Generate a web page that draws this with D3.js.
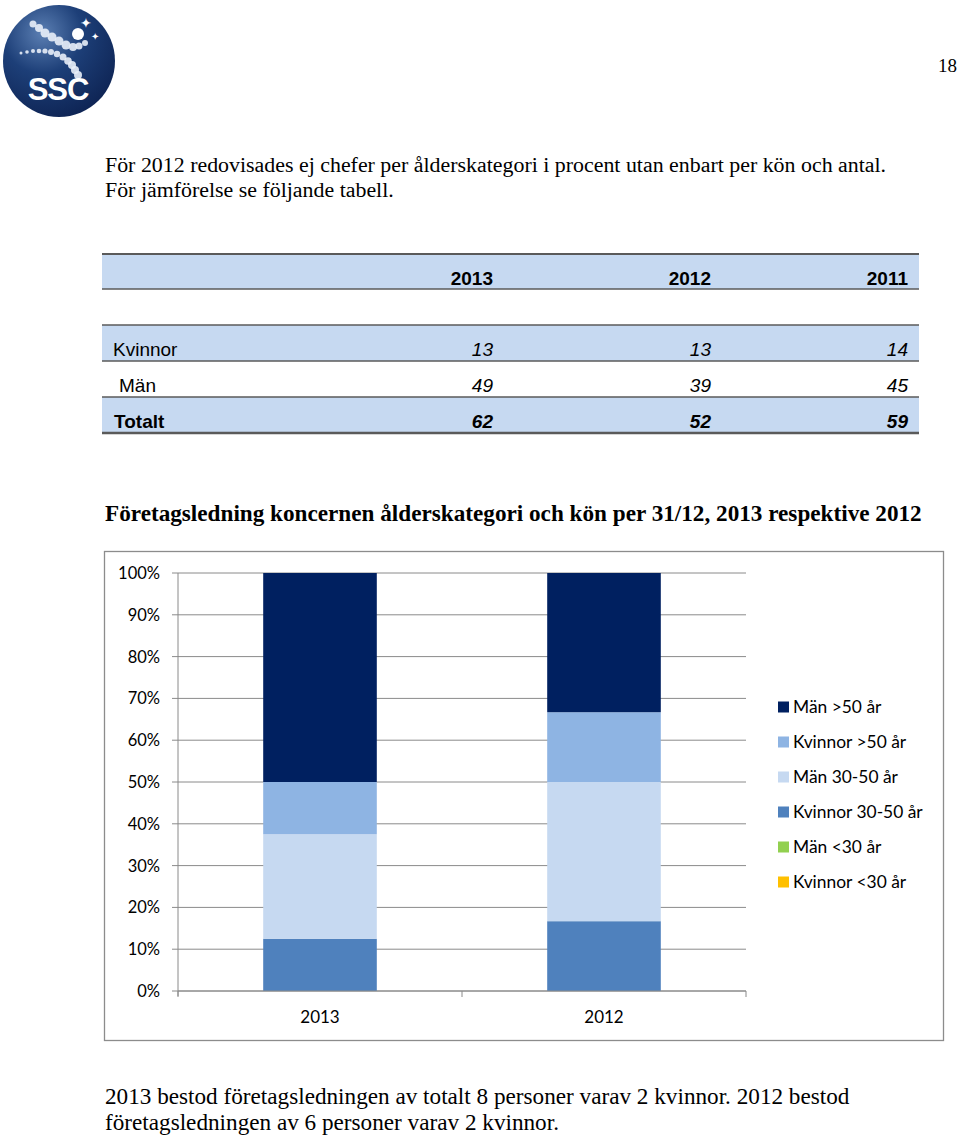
<!DOCTYPE html>
<html><head><meta charset="utf-8">
<script src="https://cdn.jsdelivr.net/npm/d3@7"></script>
<style>body{margin:0;background:#fff}svg{display:block}</style>
</head><body>
<script>
// ---- data ----
const tableYears = ["2013","2012","2011"];
const tableRows = ["Kvinnor","Män","Totalt"];
const kvinnorCounts = [13,13,14];
const manCounts = [49,39,45];
const totaltCounts = [62,52,59];

const categories = ["2013","2012"];
const seriesNames = ["Kvinnor <30 år","Män <30 år","Kvinnor 30-50 år","Män 30-50 år","Kvinnor >50 år","Män >50 år"];
const kvinnorUnder30 = [0,0];
const manUnder30 = [0,0];
const kvinnor3050 = [12.5,16.7];
const man3050 = [25,33.3];
const kvinnorOver50 = [12.5,16.7];
const manOver50 = [50,33.3];
const yTicks = [0,10,20,30,40,50,60,70,80,90,100];
const legendOrder = ["Män >50 år","Kvinnor >50 år","Män 30-50 år","Kvinnor 30-50 år","Män <30 år","Kvinnor <30 år"];
const colors = {"Män >50 år":"#002060","Kvinnor >50 år":"#8EB4E3","Män 30-50 år":"#C6D9F1","Kvinnor 30-50 år":"#4F81BD","Män <30 år":"#92D050","Kvinnor <30 år":"#FFC000"};

const W=960,H=1138;
const svg=d3.select("body").append("svg").attr("width",W).attr("height",H);

// ---- logo ----
const defs=svg.append("defs");
const grad=defs.append("radialGradient").attr("id","lg").attr("cx","35%").attr("cy","25%").attr("r","80%");
grad.append("stop").attr("offset","0%").attr("stop-color","#5b7fb3");
grad.append("stop").attr("offset","45%").attr("stop-color","#1d3f78");
grad.append("stop").attr("offset","100%").attr("stop-color","#0e2454");
const logo=svg.append("g").attr("transform","translate(59,61)");
logo.append("circle").attr("r",56).attr("fill","url(#lg)");
const dots=[[-26,-37,3.5],[-20,-33,4],[-14,-28,4.5],[-7,-24,4.5],[0,-20,4.5],[7,-16,4.5],[14,-14,4],[20,-15,3.5],[26,-18,3],[-38,-8,1.5],[-32,-9,1.8],[-26,-10,2],[-20,-10,2.3],[-14,-10,2.6],[-8,-9,3],[-2,-7,3.2],[4,-4,3.5],[9,0,3.8],[13,4,4],[16,9,4],[19,14,4]];
logo.selectAll("circle.d").data(dots).enter().append("circle").attr("cx",d=>d[0]).attr("cy",d=>d[1]).attr("r",d=>d[2]).attr("fill","#e8eef8").attr("opacity",0.9);
logo.append("circle").attr("cx",19).attr("cy",-27).attr("r",6).attr("fill","#ffffff");
logo.append("text").attr("x",27).attr("y",-33).attr("font-size",14).attr("fill","#fff").attr("text-anchor","middle").text("✦");
logo.append("text").attr("x",36).attr("y",-21).attr("font-size",10).attr("fill","#fff").attr("text-anchor","middle").text("✦");
logo.append("text").attr("x",-1).attr("y",39).attr("text-anchor","middle").attr("font-family","'Liberation Sans',Arial,sans-serif").attr("font-weight","bold").attr("font-size",31).attr("fill","#fff").attr("letter-spacing",-1).text("SSC");

// page number
svg.append("text").attr("x",957).attr("y",72).attr("text-anchor","end").attr("font-family","'Liberation Serif','Times New Roman',serif").attr("font-size",19).attr("fill","#000").text("18");

// intro text
const serif="'Liberation Serif','Times New Roman',serif";
svg.append("text").attr("x",105).attr("y",172).attr("font-family",serif).attr("font-size",21.9).text("För 2012 redovisades ej chefer per ålderskategori i procent utan enbart per kön och antal.");
svg.append("text").attr("x",105).attr("y",197).attr("font-family",serif).attr("font-size",21.9).text("För jämförelse se följande tabell.");

// ---- table ----
const sans="'Liberation Sans',Arial,sans-serif";
const tX0=102,tX1=919;
const band="#C6D9F1", line="#5a5a5a";
const colRight=[493,711,908];
const tbl=svg.append("g");
// header
tbl.append("rect").attr("x",tX0).attr("y",254).attr("width",tX1-tX0).attr("height",35).attr("fill",band);
tbl.append("line").attr("x1",tX0).attr("x2",tX1).attr("y1",254).attr("y2",254).attr("stroke",line).attr("stroke-width",2);
tbl.append("line").attr("x1",tX0).attr("x2",tX1).attr("y1",289).attr("y2",289).attr("stroke",line).attr("stroke-width",1.5);
tbl.selectAll("text.h").data(tableYears).enter().append("text").attr("x",(d,i)=>colRight[i]).attr("y",285).attr("text-anchor","end").attr("font-family",sans).attr("font-weight","bold").attr("font-size",19).text(d=>d);
// rows
const rowTop=[325,361,397], rowH=36;
const rowFill=[band,"#fff",band];
const rowVals=[kvinnorCounts,manCounts,totaltCounts];
const rowLabelX=[113,119,114];
tableRows.forEach((r,i)=>{
  tbl.append("rect").attr("x",tX0).attr("y",rowTop[i]).attr("width",tX1-tX0).attr("height",rowH).attr("fill",rowFill[i]);
  tbl.append("text").attr("x",rowLabelX[i]).attr("y",rowTop[i]+31).attr("font-family",sans).attr("font-size",19).attr("font-weight",i==2?"bold":"normal").text(r);
  rowVals[i].forEach((v,j)=>{
    tbl.append("text").attr("x",colRight[j]).attr("y",rowTop[i]+31).attr("text-anchor","end").attr("font-family",sans).attr("font-size",19).attr("font-style","italic").attr("font-weight",i==2?"bold":"normal").text(v);
  });
});
tbl.append("line").attr("x1",tX0).attr("x2",tX1).attr("y1",325).attr("y2",325).attr("stroke",line).attr("stroke-width",1.5);
tbl.append("line").attr("x1",tX0).attr("x2",tX1).attr("y1",361).attr("y2",361).attr("stroke",line).attr("stroke-width",1.5);
tbl.append("line").attr("x1",tX0).attr("x2",tX1).attr("y1",397).attr("y2",397).attr("stroke",line).attr("stroke-width",1.5);
tbl.append("line").attr("x1",tX0).attr("x2",tX1).attr("y1",433).attr("y2",433).attr("stroke",line).attr("stroke-width",2.5);

// chart title
svg.append("text").attr("x",105).attr("y",521).attr("font-family",serif).attr("font-weight","bold").attr("font-size",23.2).text("Företagsledning koncernen ålderskategori och kön per 31/12, 2013 respektive 2012");

// ---- chart ----
const cf="Lato,'Open Sans',sans-serif";
svg.append("rect").attr("x",104.5).attr("y",551.5).attr("width",839).attr("height",489).attr("fill","#fff").attr("stroke","#8c8c8c").attr("stroke-width",1.3);
const px0=178,px1=746,py0=991,py1=573;
const x=d3.scaleBand().domain(categories).range([px0,px1]);
const y=d3.scaleLinear().domain([0,100]).range([py0,py1]);
const g=svg.append("g");
// gridlines
g.selectAll("line.grid").data(yTicks).enter().append("line").attr("x1",px0-6).attr("x2",px1).attr("y1",d=>y(d)).attr("y2",d=>y(d)).attr("stroke","#8a8a8a").attr("stroke-width",1);
g.append("line").attr("x1",px0).attr("x2",px0).attr("y1",py1).attr("y2",py0+5).attr("stroke","#8a8a8a");
g.selectAll("text.yl").data(yTicks).enter().append("text").attr("x",160).attr("y",d=>y(d)+6).attr("text-anchor","end").attr("font-family",cf).attr("font-size",16.5).attr("fill","#000").text(d=>d+"%");
// stacked bars
const rows=categories.map((c,i)=>({cat:c,"Kvinnor <30 år":kvinnorUnder30[i],"Män <30 år":manUnder30[i],"Kvinnor 30-50 år":kvinnor3050[i],"Män 30-50 år":man3050[i],"Kvinnor >50 år":kvinnorOver50[i],"Män >50 år":manOver50[i]}));
const stack=d3.stack().keys(seriesNames).offset(d3.stackOffsetExpand)(rows);
const bw=x.bandwidth()*0.4;
stack.forEach(s=>{
  g.selectAll(null).data(s).enter().append("rect")
   .attr("x",d=>x(d.data.cat)+x.bandwidth()/2-bw/2).attr("width",bw)
   .attr("y",d=>y(d[1]*100)).attr("height",d=>y(d[0]*100)-y(d[1]*100))
   .attr("fill",colors[s.key]);
});
// x axis
g.append("line").attr("x1",px0).attr("x2",px1).attr("y1",py0).attr("y2",py0).attr("stroke","#8a8a8a");
[px0,(px0+px1)/2,px1].forEach(t=>g.append("line").attr("x1",t).attr("x2",t).attr("y1",py0).attr("y2",py0+6).attr("stroke","#8a8a8a"));
g.selectAll("text.xl").data(categories).enter().append("text").attr("x",d=>x(d)+x.bandwidth()/2).attr("y",1023).attr("text-anchor","middle").attr("font-family",cf).attr("font-size",17).text(d=>d);
// legend
const lg=svg.append("g");
legendOrder.forEach((k,i)=>{
  const cy=707+i*35;
  lg.append("rect").attr("x",778).attr("y",cy-5.5).attr("width",11).attr("height",11).attr("fill",colors[k]);
  lg.append("text").attr("x",793).attr("y",cy+6).attr("font-family",cf).attr("font-size",17.4).text(k);
});

// bottom text
svg.append("text").attr("x",105).attr("y",1104).attr("font-family",serif).attr("font-size",23.2).text("2013 bestod företagsledningen av totalt 8 personer varav 2 kvinnor. 2012 bestod");
svg.append("text").attr("x",105).attr("y",1130).attr("font-family",serif).attr("font-size",23.2).text("företagsledningen av 6 personer varav 2 kvinnor.");
</script>
</body></html>
